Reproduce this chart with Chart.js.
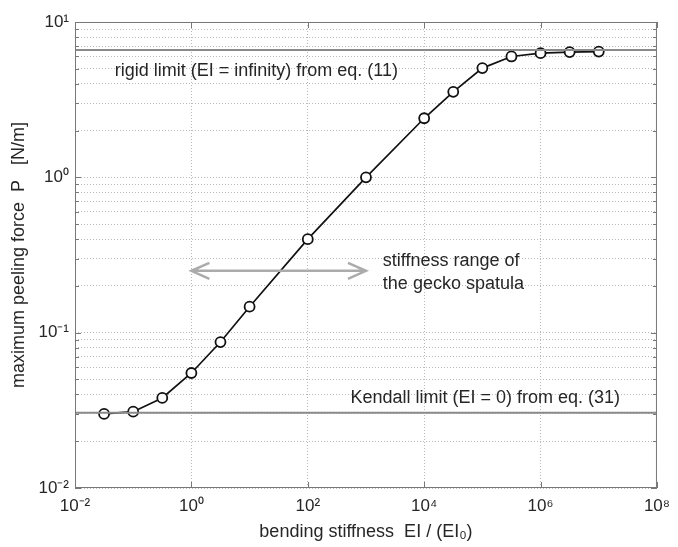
<!DOCTYPE html>
<html>
<head>
<meta charset="utf-8">
<script src="https://cdn.jsdelivr.net/npm/chart.js@4.4.1/dist/chart.umd.min.js"></script>
<style>
  html, body { margin: 0; padding: 0; background: #fff; }
  #wrap { width: 678px; height: 547px; }
</style>
</head>
<body>
<div id="wrap"><canvas id="peelChart"></canvas></div>
<script>
// bending stiffness EI/(EI0) and the computed peak peeling force
const stiffness = [0.0316, 0.1, 0.316, 1, 3.16, 10, 100, 1000, 1e4, 3.16e4, 1e5, 3.16e5, 1e6, 3.16e6, 1e7];
const peelForce = [0.030, 0.031, 0.038, 0.055, 0.087, 0.147, 0.40, 1.0, 2.4, 3.55, 5.05, 6.0, 6.3, 6.4, 6.45];

const xRange = [0.01, 1e8];
const rigidLimit = 6.6;
const kendallLimit = 0.0305;
const geckoRange = [1, 1000];
const geckoLevel = 0.25;

const xTicks = [1e-2, 1, 1e2, 1e4, 1e6, 1e8];
const yTicks = [0.01, 0.02, 0.03, 0.04, 0.05, 0.06, 0.07, 0.08, 0.09,
                0.1, 0.2, 0.3, 0.4, 0.5, 0.6, 0.7, 0.8, 0.9,
                1, 2, 3, 4, 5, 6, 7, 8, 9, 10];

const fontFamily = '"Liberation Sans", Arial, Helvetica, sans-serif';
const ink = '#262626';
const limitGrey = '#8a8a8a';
const arrowGrey = '#ababab';
const gridGrey = '#b8b8b8';

const sup = { '-': '\u207B', '0': '\u2070', '1': '\u00B9', '2': '\u00B2', '3': '\u00B3',
              '4': '\u2074', '5': '\u2075', '6': '\u2076', '7': '\u2077', '8': '\u2078', '9': '\u2079' };

function powLabel(v) {
    const e = Math.log10(v);
    if (Math.abs(e - Math.round(e)) > 1e-6) return '';
    return '10' + String(Math.round(e)).split('').map(c => sup[c]).join('');
}

// frame, inside tick marks, arrow and text notes
const decor = {
    id: 'decor',
    afterDatasetsDraw(chart) {
        const { ctx, chartArea: a, scales } = chart;
        const xs = scales.x, ys = scales.y;
        ctx.save();

        // gecko stiffness range arrow
        const x1 = xs.getPixelForValue(geckoRange[0]);
        const x2 = xs.getPixelForValue(geckoRange[1]);
        const yy = ys.getPixelForValue(geckoLevel);
        ctx.strokeStyle = arrowGrey;
        ctx.lineWidth = 2.5;
        ctx.beginPath();
        ctx.moveTo(x1, yy); ctx.lineTo(x2, yy);
        ctx.moveTo(x1 + 18, yy - 8); ctx.lineTo(x1, yy); ctx.lineTo(x1 + 18, yy + 8);
        ctx.moveTo(x2 - 18, yy - 8); ctx.lineTo(x2, yy); ctx.lineTo(x2 - 18, yy + 8);
        ctx.stroke();

        // text notes
        ctx.fillStyle = ink;
        ctx.font = '18px ' + fontFamily;
        ctx.textBaseline = 'middle';
        ctx.textAlign = 'left';
        ctx.fillText('rigid limit (EI = infinity) from eq. (11)',
            xs.getPixelForValue(0.048), ys.getPixelForValue(4.84));
        ctx.fillText('stiffness range of', xs.getPixelForValue(1950), ys.getPixelForValue(0.29));
        ctx.fillText('the gecko spatula', xs.getPixelForValue(1950), ys.getPixelForValue(0.29) + 23);
        ctx.fillText('Kendall limit (EI = 0) from eq. (31)',
            xs.getPixelForValue(540), ys.getPixelForValue(0.0382));

        // frame
        ctx.strokeStyle = '#777';
        ctx.lineWidth = 1;
        ctx.strokeRect(a.left + 0.5, a.top + 0.5, a.right - a.left - 1, a.bottom - a.top - 1);

        // inside ticks
        ctx.beginPath();
        ys.ticks.forEach(t => {
            const py = Math.round(ys.getPixelForValue(t.value)) + 0.5;
            const len = powLabel(t.value) ? 6 : 4;
            ctx.moveTo(a.left, py); ctx.lineTo(a.left + len, py);
            ctx.moveTo(a.right, py); ctx.lineTo(a.right - len, py);
        });
        xs.ticks.forEach(t => {
            const px = Math.round(xs.getPixelForValue(t.value)) + 0.5;
            ctx.moveTo(px, a.bottom); ctx.lineTo(px, a.bottom - 6);
            ctx.moveTo(px, a.top); ctx.lineTo(px, a.top + 6);
        });
        ctx.stroke();
        ctx.restore();
    }
};

new Chart(document.getElementById('peelChart').getContext('2d'), {
    type: 'line',
    data: {
        datasets: [
            {
                label: 'rigid limit',
                data: xRange.map(x => ({ x: x, y: rigidLimit })),
                borderColor: limitGrey,
                borderWidth: 2,
                pointRadius: 0,
            },
            {
                label: 'Kendall limit',
                data: xRange.map(x => ({ x: x, y: kendallLimit })),
                borderColor: limitGrey,
                borderWidth: 2,
                pointRadius: 0,
            },
            {
                label: 'peeling force',
                data: stiffness.map((x, i) => ({ x: x, y: peelForce[i] })),
                borderColor: '#111',
                borderWidth: 1.7,
                pointRadius: 5,
                pointBorderWidth: 1.8,
                pointBackgroundColor: '#fff',
                pointBorderColor: '#111',
                tension: 0,
            }
        ]
    },
    options: {
        responsive: true,
        maintainAspectRatio: false,
        animation: false,
        layout: { padding: { top: 22, right: 13, left: 0, bottom: 0 } },
        plugins: {
            legend: { display: false },
            tooltip: { enabled: false }
        },
        scales: {
            x: {
                type: 'logarithmic',
                min: xRange[0],
                max: xRange[1],
                afterBuildTicks: s => { s.ticks = xTicks.map(v => ({ value: v })); },
                afterFit: s => { s.height = 59; },
                border: { display: false, dash: [1, 2] },
                grid: { color: gridGrey, lineWidth: 1, drawTicks: false },
                ticks: {
                    autoSkip: false, maxRotation: 0, padding: 8,
                    font: { family: fontFamily, size: 17 }, color: ink,
                    callback: v => powLabel(v)
                },
                title: {
                    display: true,
                    text: 'bending stiffness  EI / (EI\u2080)',
                    font: { family: fontFamily, size: 18 }, color: ink,
                    padding: { top: 0 }
                }
            },
            y: {
                type: 'logarithmic',
                min: 0.01,
                max: 10,
                afterBuildTicks: s => { s.ticks = yTicks.map(v => ({ value: v })); },
                afterFit: s => { s.width = 75; },
                border: { display: false, dash: [1, 2] },
                grid: { color: gridGrey, lineWidth: 1, drawTicks: false },
                ticks: {
                    autoSkip: false, padding: 6,
                    font: { family: fontFamily, size: 17 }, color: ink,
                    callback: v => powLabel(v)
                },
                title: {
                    display: true,
                    text: 'maximum peeling force  P   [N/m]',
                    font: { family: fontFamily, size: 18 }, color: ink,
                    padding: { top: 8, bottom: 2 }
                }
            }
        }
    },
    plugins: [decor]
});
</script>
</body>
</html>
